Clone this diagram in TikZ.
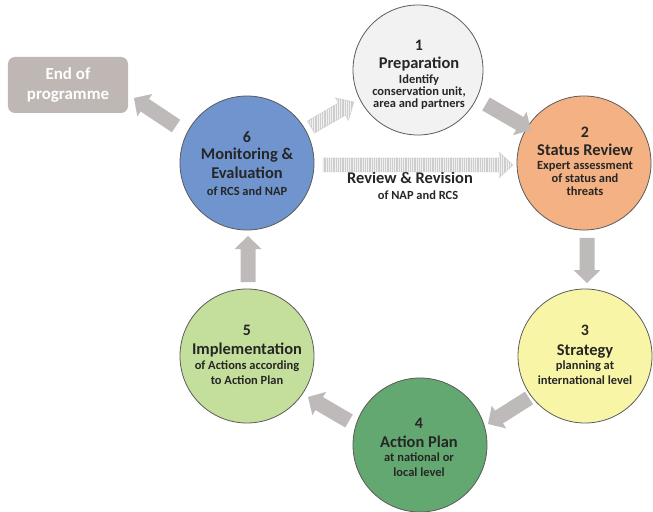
\documentclass[tikz,border=0pt]{standalone}
\usepackage{fontspec}
\setmainfont{Carlito}
\usetikzlibrary{calc,patterns.meta}
\definecolor{txt}{HTML}{262626}
\definecolor{rim}{HTML}{5A5A5A}
\definecolor{cA}{HTML}{F2F2F2}
\definecolor{cB}{HTML}{F4B183}
\definecolor{cC}{HTML}{F8F6A6}
\definecolor{cD}{HTML}{63A870}
\definecolor{cE}{HTML}{C4DF9B}
\definecolor{cF}{HTML}{7094CE}
\definecolor{arr}{HTML}{BEBABA}
\definecolor{endbox}{HTML}{BFB7B3}
\definecolor{strf}{HTML}{F0F0F0}
\definecolor{strl}{HTML}{CDCDCD}
\newcommand\blkarrow[6][]{% style, name, from, to, halfshaft, headlen
  \coordinate (#2h) at ($(#4)!#6!(#3)$);
  \path[#1] ($(#3)!#5!90:(#4)$) -- ($(#2h)!#5!90:(#4)$) -- ($(#2h)!\hdw!90:(#4)$) -- (#4)
    -- ($(#2h)!\hdw!-90:(#4)$) -- ($(#2h)!#5!-90:(#4)$) -- ($(#3)!#5!-90:(#4)$) -- cycle;}
\def\hdw{13.5bp}
\tikzset{
  stage/.style={circle, draw=rim, line width=0.8bp, inner sep=0pt},
  numt/.style={font=\bfseries\fontsize{16}{19}\selectfont, text=txt, inner sep=0pt, text height=10.5pt, text depth=0pt},
  ttl/.style={font=\bfseries\fontsize{16.5}{19}\selectfont, text=txt, inner sep=0pt, text height=9.5pt, text depth=0pt},
  sbt/.style={font=\bfseries\fontsize{12.5}{14}\selectfont, text=txt, inner sep=0pt, text height=6pt, text depth=0pt},
  endt/.style={font=\bfseries\fontsize{17}{20}\selectfont, text=white, inner sep=0pt, text height=9.5pt, text depth=0pt},
  solidarr/.style={fill=arr},
  stripearr/.style={preaction={fill=strf}, pattern={Lines[angle=90,distance=1.8bp,line width=0.7bp]}, pattern color=strl, postaction={draw=strl, line width=0.4bp}},
}
\begin{document}
\begin{tikzpicture}[x=1bp,y=-1bp]
\useasboundingbox (0,0) rectangle (653,512);
\fill[white] (0,0) rectangle (653,512);
% circles
\node[stage, fill=cA, minimum size=130bp] (c1) at (418,70) {};
\node[stage, fill=cB, minimum size=134bp] (c2) at (584,163) {};
\node[stage, fill=cC, minimum size=134bp] (c3) at (585,356) {};
\node[stage, fill=cD, minimum size=134bp] (c4) at (420,445) {};
\node[stage, fill=cE, minimum size=134bp] (c5) at (247,356) {};
\node[stage, fill=cF, minimum size=134bp] (c6) at (247,163) {};
% end box
\node[fill=endbox, rounded corners=7bp, minimum width=120bp, minimum height=56bp, inner sep=0pt] (end) at (68,85) {};
\node[endt] (endA) at (68,75) {End of};
\node[endt] (endB) at (68,95) {programme};
% texts circle 1
\node[numt] (n1) at (419,45) {1};
\node[ttl] (t1) at (419,64) {Preparation};
\node[sbt] (s1a) at (419,81) {Identify};
\node[sbt] (s1b) at (419,93) {conservation unit,};
\node[sbt] (s1c) at (419,105) {area and partners};
% circle 2
\node[numt] (n2) at (585,132) {2};
\node[ttl] (t2) at (585,151) {Status Review};
\node[sbt] (s2a) at (585,167) {Expert assessment};
\node[sbt] (s2b) at (585,180) {of status and};
\node[sbt] (s2c) at (585,193) {threats};
% circle 3
\node[numt] (n3) at (585,330) {3};
\node[ttl] (t3) at (585,351) {Strategy};
\node[sbt] (s3a) at (585,367) {planning at};
\node[sbt] (s3b) at (585,382) {international level};
% circle 4
\node[numt] (n4) at (419,423) {4};
\node[ttl] (t4) at (419,443) {Action Plan};
\node[sbt] (s4a) at (419,459) {at national or};
\node[sbt] (s4b) at (419,474) {local level};
% circle 5
\node[numt] (n5) at (247,330) {5};
\node[ttl] (t5) at (247,350) {Implementation};
\node[sbt] (s5a) at (247,367) {of Actions according};
\node[sbt] (s5b) at (247,382) {to Action Plan};
% circle 6
\node[numt] (n6) at (247,137) {6};
\node[ttl] (t6a) at (247,155) {Monitoring \&};
\node[ttl] (t6b) at (247,174) {Evaluation};
\node[sbt] (s6a) at (247,193) {of RCS and NAP};
% review label
\node[ttl] (rv) at (410,179) {Review \& Revision};
\node[sbt] (rvs) at (418,197) {of NAP and RCS};
% arrow end points
\coordinate (a1s) at (176,126); \coordinate (a1e) at (134,98);
\coordinate (a2s) at (486,104); \coordinate (a2e) at (531,130);
\coordinate (a3s) at (587,238); \coordinate (a3e) at (587,283);
\coordinate (a4s) at (529,398); \coordinate (a4e) at (488,424);
\coordinate (a5s) at (349,421); \coordinate (a5e) at (308,397);
\coordinate (a6s) at (248,282); \coordinate (a6e) at (248,236);
\coordinate (b1s) at (311,127); \coordinate (b1e) at (354,102);
\coordinate (b2s) at (323,165); \coordinate (b2e) at (513,165);
% solid arrows
\blkarrow[solidarr]{a1}{a1s}{a1e}{7.5bp}{13bp}
\blkarrow[solidarr]{a2}{a2s}{a2e}{7.5bp}{13bp}
\blkarrow[solidarr]{a3}{a3s}{a3e}{7.5bp}{13bp}
\blkarrow[solidarr]{a4}{a4s}{a4e}{7.5bp}{13bp}
\blkarrow[solidarr]{a5}{a5s}{a5e}{7.5bp}{13bp}
\blkarrow[solidarr]{a6}{a6s}{a6e}{7.5bp}{13bp}
% striped arrows
\def\hdw{13bp}
\blkarrow[stripearr]{b1}{b1s}{b1e}{7bp}{14bp}
\blkarrow[stripearr]{b2}{b2s}{b2e}{7bp}{14bp}
\end{tikzpicture}
\end{document}
